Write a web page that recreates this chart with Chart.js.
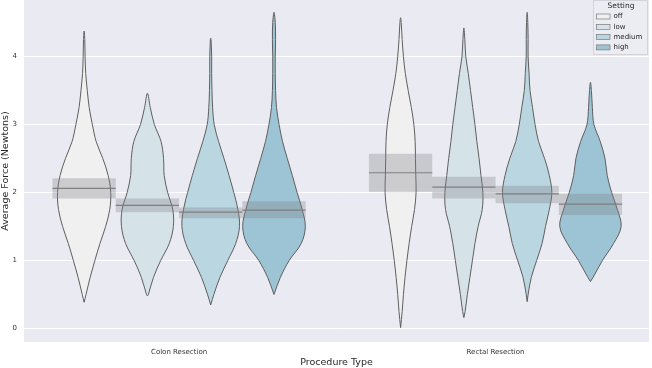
<!DOCTYPE html>
<html>
<head>
<meta charset="utf-8">
<script src="https://cdn.jsdelivr.net/npm/chart.js@4.4.0/dist/chart.umd.min.js"></script>
<style>
  html, body { margin: 0; padding: 0; background: #fff; }
  #wrap { width: 652px; height: 368px; }
</style>
</head>
<body>
<div id="wrap"><canvas id="myChart" width="652" height="368"></canvas></div>
<script>
const procedures = ['Colon Resection', 'Rectal Resection'];
const settings = ['off', 'low', 'medium', 'high'];
const settingColors = ['#f0f0f0', '#d5e3e9', '#bad6e0', '#9dc4d4'];

const levels = [0, 0.25, 0.5, 0.75, 1, 1.25, 1.5, 1.75, 2, 2.25, 2.5, 2.75, 3, 3.25, 3.5, 3.75, 4, 4.25, 4.5, 4.75];

// [bottom tip, top tip] for each setting
const colonTips = [[0.385, 4.375], [0.478, 3.46], [0.345, 4.27], [0.5, 4.65]];
const rectalTips = [[0.012, 4.57], [0.16, 4.42], [0.394, 4.65], [0.69, 3.62]];

const colonOff = [null, null, 0.006, 0.019, 0.034, 0.050, 0.068, 0.081, 0.084, 0.076, 0.059, 0.038, 0.026, 0.016, 0.010, 0.005, 0.003, 0.002, null, null];
const colonLow = [null, null, 0.003, 0.019, 0.042, 0.069, 0.082, 0.080, 0.064, 0.053, 0.051, 0.043, 0.022, 0.009, null, null, null, null, null, null];
const colonMedium = [null, null, 0.010, 0.029, 0.054, 0.079, 0.091, 0.086, 0.073, 0.058, 0.042, 0.025, 0.011, 0.006, 0.004, 0.003, 0.003, 0.001, null, null];
const colonHigh = [null, null, null, 0.020, 0.048, 0.086, 0.099, 0.089, 0.073, 0.058, 0.042, 0.027, 0.016, 0.008, 0.005, 0.004, 0.004, 0.005, 0.004, null];
const rectalOff = [null, 0.005, 0.009, 0.014, 0.020, 0.027, 0.035, 0.044, 0.049, 0.048, 0.047, 0.046, 0.042, 0.034, 0.024, 0.015, 0.009, 0.005, 0.002, null];
const rectalLow = [null, 0.004, 0.011, 0.019, 0.027, 0.035, 0.045, 0.058, 0.060, 0.054, 0.048, 0.041, 0.035, 0.028, 0.021, 0.014, 0.006, 0.003, null, null];
const rectalMedium = [null, null, 0.003, 0.013, 0.030, 0.047, 0.058, 0.070, 0.078, 0.070, 0.055, 0.036, 0.025, 0.017, 0.009, 0.006, 0.003, 0.003, 0.002, null];
const rectalHigh = [null, null, null, 0.008, 0.038, 0.073, 0.097, 0.085, 0.067, 0.053, 0.046, 0.031, 0.011, 0.006, 0.003, null, null, null, null, null];

// mean and confidence band (gray boxes)
const colonMean = [2.06, 1.81, 1.71, 1.74];
const colonLo = [1.91, 1.71, 1.62, 1.62];
const colonHi = [2.21, 1.91, 1.78, 1.87];
const rectalMean = [2.29, 2.08, 1.98, 1.83];
const rectalLo = [2.01, 1.91, 1.84, 1.67];
const rectalHi = [2.57, 2.23, 2.10, 1.98];

const colonWidths = [colonOff, colonLow, colonMedium, colonHigh];
const rectalWidths = [rectalOff, rectalLow, rectalMedium, rectalHigh];

const slot = 0.2; // dodge width of one setting inside a category

function violinPoints(center, tips, widths) {
    let right = [{x: center, y: tips[0]}];
    levels.forEach(function(v, i) {
        if (widths[i] != null && v > tips[0] && v < tips[1]) right.push({x: center + widths[i], y: v});
    });
    right.push({x: center, y: tips[1]});
    let left = right.slice(1, -1).reverse().map(p => ({x: 2 * center - p.x, y: p.y}));
    return right.concat(left, [{x: center, y: tips[0]}]);
}

function boxPoints(center, lo, hi) {
    let a = center - slot / 2, b = center + slot / 2;
    return [{x: a, y: lo}, {x: b, y: lo}, {x: b, y: hi}, {x: a, y: hi}, {x: a, y: lo}];
}

let datasets = [];

[colonTips, rectalTips].forEach(function(tipsArr, c) {
    let widthArr = c === 0 ? colonWidths : rectalWidths;
    let means = c === 0 ? colonMean : rectalMean;
    let los = c === 0 ? colonLo : rectalLo;
    let his = c === 0 ? colonHi : rectalHi;
    settings.forEach(function(s, i) {
        let center = c + (i - 1.5) * slot;
        datasets.push({
            label: s,
            data: violinPoints(center, tipsArr[i], widthArr[i]),
            borderColor: '#5f5f5f',
            borderWidth: 1,
            backgroundColor: settingColors[i],
            fill: 'shape',
            tension: 0.35,
            order: 3
        });
        datasets.push({
            data: boxPoints(center, los[i], his[i]),
            borderWidth: 0,
            borderColor: 'rgba(0,0,0,0)',
            backgroundColor: 'rgba(128,128,135,0.32)',
            fill: 'shape',
            tension: 0,
            order: 2
        });
        datasets.push({
            data: [{x: center - slot / 2, y: means[i]}, {x: center + slot / 2, y: means[i]}],
            borderColor: 'rgba(120,120,120,0.9)',
            borderWidth: 1.2,
            fill: false,
            order: 1
        });
    });
});

const bgPlugin = {
    id: 'bg',
    beforeDraw(chart) {
        let a = chart.chartArea, ctx = chart.ctx;
        ctx.save();
        ctx.fillStyle = '#eaeaf2';
        ctx.fillRect(a.left, a.top, a.right - a.left, a.bottom - a.top);
        ctx.restore();
    }
};

const legendPlugin = {
    id: 'settingLegend',
    afterDraw(chart) {
        let ctx = chart.ctx;
        ctx.save();
        ctx.fillStyle = 'rgba(236,236,243,0.85)';
        ctx.strokeStyle = '#d2d2d8';
        ctx.lineWidth = 1;
        ctx.beginPath();
        ctx.rect(593.5, 0.5, 54, 54);
        ctx.fill();
        ctx.stroke();
        ctx.fillStyle = '#262626';
        ctx.font = '7.5px "DejaVu Sans"';
        ctx.textAlign = 'center';
        ctx.textBaseline = 'middle';
        ctx.fillText('Setting', 621, 6);
        ctx.textAlign = 'left';
        settings.forEach(function(s, i) {
            let y = 16.5 + i * 10.3;
            ctx.fillStyle = settingColors[i];
            ctx.strokeStyle = '#6a6a6a';
            ctx.lineWidth = 0.6;
            ctx.fillRect(596.5, y - 2.5, 13.5, 5);
            ctx.strokeRect(596.5, y - 2.5, 13.5, 5);
            ctx.fillStyle = '#262626';
            ctx.font = '7px "DejaVu Sans"';
            ctx.fillText(s, 613.5, y);
        });
        ctx.restore();
    }
};

new Chart(document.getElementById('myChart').getContext('2d'), {
    type: 'scatter',
    data: { datasets: datasets },
    options: {
        responsive: false,
        animation: false,
        showLine: true,
        elements: { point: { radius: 0, hoverRadius: 0 } },
        layout: { padding: { top: 0, right: 3, left: 0, bottom: 0 } },
        plugins: {
            legend: { display: false },
            tooltip: { enabled: false }
        },
        scales: {
            x: {
                type: 'linear',
                min: -0.49,
                max: 1.485,
                offset: false,
                grid: { display: false, drawTicks: false },
                border: { display: false },
                afterBuildTicks(scale) {
                    scale.ticks = procedures.map((p, i) => ({value: i}));
                },
                ticks: {
                    color: '#333', font: { family: 'DejaVu Sans', size: 7 }, padding: 6,
                    maxRotation: 0, autoSkip: false,
                    callback: (v) => procedures[v]
                },
                title: { display: true, text: 'Procedure Type', color: '#262626', font: { family: 'DejaVu Sans', size: 9.5 }, padding: 0 },
                afterFit(scale) { scale.height = 26; scale.paddingLeft = 0; scale.paddingRight = 0; }
            },
            y: {
                type: 'linear',
                min: -0.199,
                max: 4.831,
                grid: { color: '#ffffff', lineWidth: 1, drawTicks: false },
                border: { display: false },
                ticks: { stepSize: 1, color: '#333', font: { family: 'DejaVu Sans', size: 7 }, padding: 7 },
                afterBuildTicks(scale) {
                    scale.ticks = scale.ticks.filter(t => Number.isInteger(t.value));
                },
                title: { display: true, text: 'Average Force (Newtons)', color: '#262626', font: { family: 'DejaVu Sans', size: 9.5 }, padding: 0 },
                afterFit(scale) { scale.width = 24; scale.paddingTop = 0; scale.paddingBottom = 0; }
            }
        }
    },
    plugins: [bgPlugin, legendPlugin]
});
</script>
</body>
</html>
